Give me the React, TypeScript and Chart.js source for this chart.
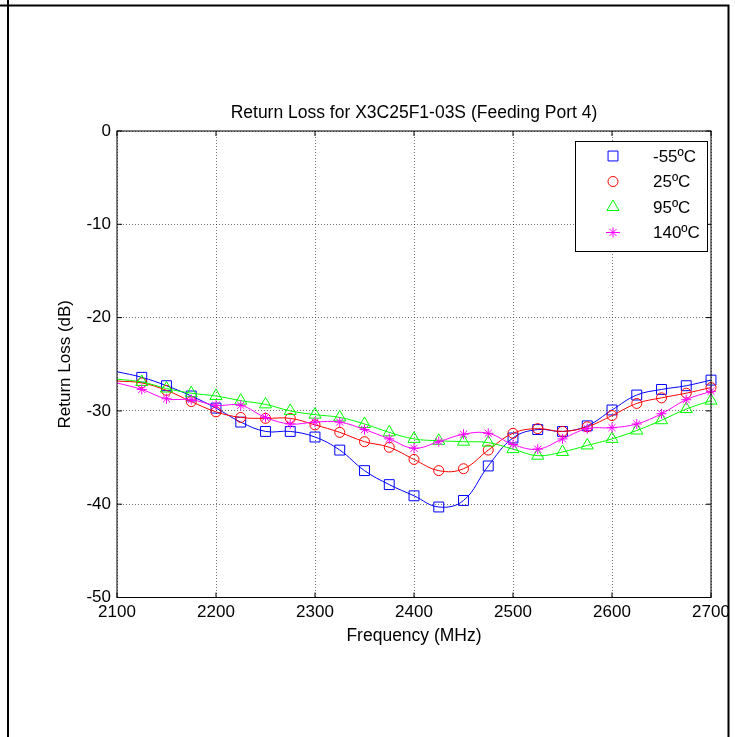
import React, { useEffect, useRef } from 'react';
import { Chart, registerables } from 'chart.js';

Chart.register(...registerables);

const frequencies = [2100, 2125, 2150, 2175, 2200, 2225, 2250, 2275, 2300, 2325, 2350, 2375, 2400, 2425, 2450, 2475, 2500, 2525, 2550, 2575, 2600, 2625, 2650, 2675, 2700];
const lossM55 = [-25.8, -26.4, -27.3, -28.4, -29.7, -31.2, -32.2, -32.2, -32.8, -34.2, -36.4, -37.9, -39.1, -40.3, -39.6, -35.9, -32.9, -32.0, -32.2, -31.6, -29.9, -28.3, -27.7, -27.3, -26.7];
const loss25 = [-26.8, -27.0, -27.8, -29.0, -30.1, -30.7, -30.8, -30.8, -31.5, -32.3, -33.3, -33.9, -35.2, -36.4, -36.2, -34.2, -32.4, -31.9, -32.2, -31.7, -30.5, -29.2, -28.6, -28.1, -27.5];
const loss95 = [-26.6, -26.9, -27.6, -28.1, -28.4, -28.9, -29.3, -30.0, -30.4, -30.7, -31.4, -32.3, -33.0, -33.2, -33.3, -33.4, -34.1, -34.8, -34.4, -33.7, -33.0, -32.1, -31.0, -29.8, -28.9];
const loss140 = [-27.0, -27.7, -28.7, -28.8, -29.4, -29.4, -30.7, -31.4, -31.2, -31.2, -32.0, -33.0, -34.0, -33.3, -32.5, -32.4, -33.6, -34.1, -33.0, -31.9, -31.8, -31.4, -30.3, -28.8, -27.9];

const seriesLabels = ['-55ºC', '25ºC', '95ºC', '140ºC'];
const seriesColors = ['#0000FF', '#FF0000', '#00FF00', '#FF00FF'];
const seriesStyles = ['rect', 'circle', 'triangle', 'star'];
const seriesRadius = [7, 5, 7, 5];

const xTicks = [2100, 2200, 2300, 2400, 2500, 2600, 2700];
const yTicks = [0, -10, -20, -30, -40, -50];

const TITLE = 'Return Loss for X3C25F1-03S (Feeding Port 4)';
const X_TITLE = 'Frequency (MHz)';
const Y_TITLE = 'Return Loss (dB)';
const FONT = '"Liberation Sans", Arial, sans-serif';

function drawMarker(ctx: CanvasRenderingContext2D, style: string, x: number, y: number, r: number) {
  ctx.beginPath();
  if (style === 'rect') {
    const s = Math.SQRT1_2 * r;
    ctx.rect(x - s, y - s, 2 * s, 2 * s);
  } else if (style === 'circle') {
    ctx.arc(x, y, r, 0, Math.PI * 2);
  } else if (style === 'triangle') {
    for (let k = 0; k < 3; k++) {
      const ang = (k * 2 * Math.PI) / 3;
      const px = x + Math.sin(ang) * r;
      const py = y - Math.cos(ang) * r;
      if (k === 0) ctx.moveTo(px, py);
      else ctx.lineTo(px, py);
    }
    ctx.closePath();
  } else if (style === 'star') {
    for (let k = 0; k < 4; k++) {
      const ang = (k * Math.PI) / 4;
      ctx.moveTo(x - Math.cos(ang) * r, y - Math.sin(ang) * r);
      ctx.lineTo(x + Math.cos(ang) * r, y + Math.sin(ang) * r);
    }
  }
  ctx.stroke();
}

const framePlugin = {
  id: 'frame',
  afterDraw(chart: any) {
    const { ctx, chartArea: a, scales } = chart;
    const xs = scales.x;
    const ys = scales.y;
    ctx.save();
    ctx.setLineDash([]);
    ctx.strokeStyle = '#000';
    ctx.lineWidth = 1;
    ctx.strokeRect(a.left, a.top, a.right - a.left, a.bottom - a.top);
    const tl = 5;
    ctx.beginPath();
    xTicks.forEach((v) => {
      const px = xs.getPixelForValue(v);
      ctx.moveTo(px, a.bottom);
      ctx.lineTo(px, a.bottom - tl);
      ctx.moveTo(px, a.top);
      ctx.lineTo(px, a.top + tl);
    });
    yTicks.forEach((v) => {
      const py = ys.getPixelForValue(v);
      ctx.moveTo(a.left, py);
      ctx.lineTo(a.left + tl, py);
      ctx.moveTo(a.right, py);
      ctx.lineTo(a.right - tl, py);
    });
    ctx.stroke();

    // title
    ctx.fillStyle = '#000';
    ctx.font = `17.5px ${FONT}`;
    ctx.textAlign = 'center';
    ctx.textBaseline = 'middle';
    ctx.fillText(TITLE, (a.left + a.right) / 2, a.top - 18);

    // legend
    const lw = 132;
    const lh = 110;
    const lx = a.right - lw - 4;
    const ly = a.top + 10;
    ctx.fillStyle = '#fff';
    ctx.fillRect(lx, ly, lw, lh);
    ctx.strokeStyle = '#000';
    ctx.lineWidth = 1;
    ctx.strokeRect(lx + 0.5, ly + 0.5, lw, lh);
    ctx.textAlign = 'left';
    ctx.textBaseline = 'middle';
    ctx.font = `17px ${FONT}`;
    seriesLabels.forEach((lab, i) => {
      const cy = ly + 15 + i * 25.5;
      ctx.strokeStyle = seriesColors[i];
      ctx.lineWidth = 1;
      drawMarker(ctx, seriesStyles[i], lx + 38, cy, seriesRadius[i]);
      if (seriesStyles[i] === 'star') {
        ctx.beginPath();
        ctx.moveTo(lx + 31, cy);
        ctx.lineTo(lx + 45, cy);
        ctx.stroke();
      }
      ctx.fillStyle = '#000';
      ctx.fillText(lab, lx + 78, cy + 1);
    });

    // outer page frame
    ctx.fillStyle = '#fff';
    ctx.fillRect(728, 0, chart.width - 728, chart.height);
    ctx.strokeStyle = '#000';
    ctx.lineWidth = 2;
    ctx.beginPath();
    ctx.moveTo(0, 5.5);
    ctx.lineTo(729.5, 5.5);
    ctx.moveTo(8, 0);
    ctx.lineTo(8, chart.height);
    ctx.moveTo(728.5, 5);
    ctx.lineTo(728.5, chart.height);
    ctx.stroke();
    ctx.restore();
  },
};

export default function App() {
  const ref = useRef<HTMLCanvasElement | null>(null);
  useEffect(() => {
    if (!ref.current) return;
    const seriesValues = [lossM55, loss25, loss95, loss140];
    const datasets = seriesValues.map((vals, i) => ({
      label: seriesLabels[i],
      data: frequencies.map((f, j) => ({ x: f, y: vals[j] })),
      borderColor: seriesColors[i],
      borderWidth: 1,
      pointStyle: seriesStyles[i],
      pointRadius: frequencies.map((_, j) => (j === 0 ? 0 : seriesRadius[i])),
      pointBorderColor: seriesColors[i],
      pointBackgroundColor: 'rgba(0,0,0,0)',
      pointBorderWidth: 1,
      tension: 0.4,
      fill: false,
      clip: false as any,
      order: 4 - i,
    }));
    const chart = new Chart(ref.current, {
      type: 'line',
      data: { datasets },
      plugins: [framePlugin],
      options: {
        responsive: false,
        animation: false,
        devicePixelRatio: 1,
        layout: { padding: { left: 0, right: 24, top: 131, bottom: 79.5 } },
        plugins: { legend: { display: false }, tooltip: { enabled: false }, title: { display: false } },
        scales: {
          x: {
            type: 'linear',
            min: 2100,
            max: 2700,
            afterFit: (s: any) => { s.height = 60; },
            afterBuildTicks: (s: any) => { s.ticks = xTicks.map((v) => ({ value: v })); },
            ticks: { color: '#000', font: { family: FONT, size: 17 }, padding: 5, maxRotation: 0, autoSkip: false, callback: (v: any) => String(v) },
            grid: { color: 'rgba(0,0,0,0.55)', lineWidth: 1, drawTicks: false },
            border: { display: false, dash: [1, 2] },
            title: { display: true, text: X_TITLE, color: '#000', font: { family: FONT, size: 17.5 }, padding: { top: 0, bottom: 10.5 } },
          },
          y: {
            type: 'linear',
            min: -50,
            max: 0,
            afterFit: (s: any) => { s.width = 117; },
            afterBuildTicks: (s: any) => { s.ticks = yTicks.map((v) => ({ value: v })); },
            ticks: { color: '#000', font: { family: FONT, size: 17 }, padding: 6, autoSkip: false, callback: (v: any) => String(v) },
            grid: { color: 'rgba(0,0,0,0.55)', lineWidth: 1, drawTicks: false },
            border: { display: false, dash: [1, 2] },
            title: { display: true, text: Y_TITLE, color: '#000', font: { family: FONT, size: 17 }, padding: { top: 55, bottom: 0 } },
          },
        },
      },
    });
    return () => chart.destroy();
  }, []);
  return (
    <div style={{ position: 'absolute', left: 0, top: 0, width: 735, height: 737, background: '#fff' }}>
      <canvas ref={ref} width={735} height={737} style={{ width: 735, height: 737, display: 'block' }} />
    </div>
  );
}
